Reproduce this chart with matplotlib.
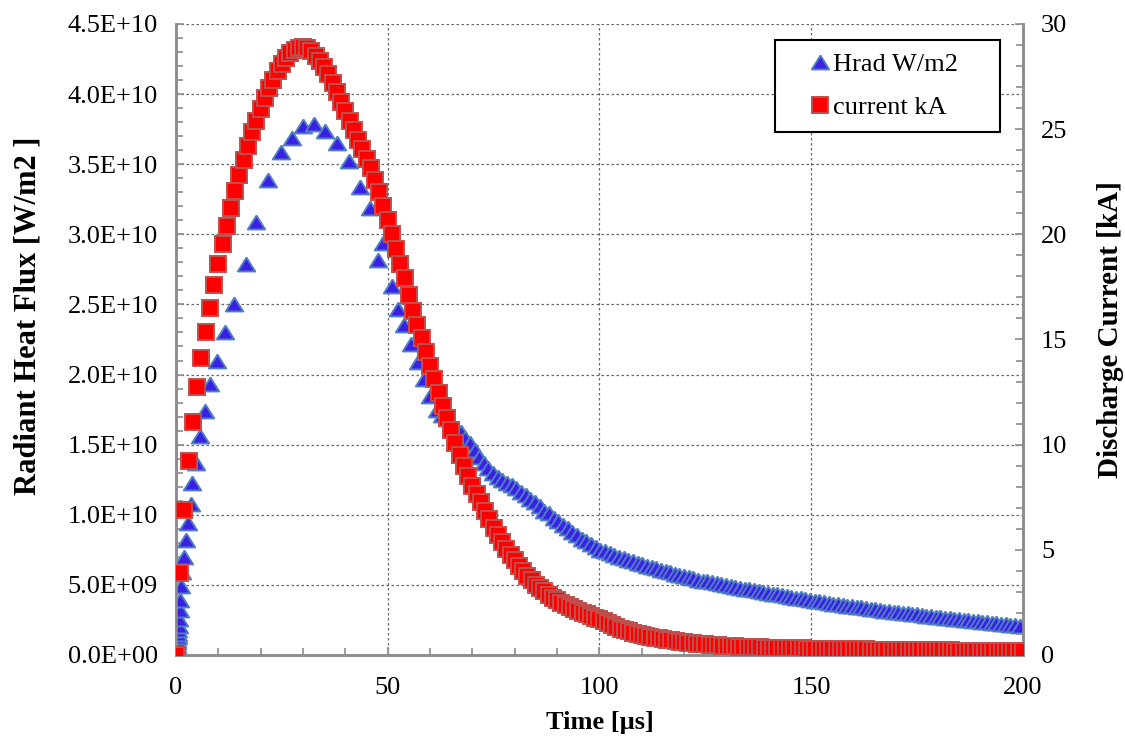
import matplotlib
matplotlib.use("Agg")
import matplotlib.pyplot as plt
import numpy as np
from matplotlib.ticker import MultipleLocator, FuncFormatter

# Hrad (radiant heat flux), time in us, flux in units of 1E10 W/m2
hrad_time = [
    0.00, 0.05, 0.10, 0.15, 0.20, 0.25, 0.30, 0.38, 0.46, 0.55, 0.65, 0.76,
    0.90, 1.05, 1.25, 1.50, 1.90, 2.40, 2.90, 3.45, 3.90, 4.70, 5.60, 6.80,
    8.00, 9.60, 11.6, 13.7, 16.5, 19.0, 21.8, 24.7, 27.5, 30.1, 32.7, 35.3,
    38.1, 40.8, 43.4, 45.9, 47.7, 48.8, 50.9, 52.5, 53.8, 55.4, 57.2, 58.5,
    60.1, 61.7, 62.8, 63.9, 65.0, 66.1, 67.2, 68.3, 69.4, 70.5, 71.6, 72.7,
    73.8, 74.9, 76.0, 77.1, 78.2, 79.3, 80.4, 81.5, 82.6, 83.7, 84.8, 85.9,
    87.0, 88.1, 89.2, 90.3, 91.4, 92.5, 93.6, 94.7, 95.8, 96.9, 98.0, 99.1,
    100.2, 101.3, 102.4, 103.5, 104.6, 105.7, 106.8, 107.9, 109.0, 110.1,
    111.2, 112.3, 113.4, 114.5, 115.6, 116.7, 117.8, 118.9, 120.0, 121.1,
    122.2, 123.3, 124.4, 125.5, 126.6, 127.7, 128.8, 129.9, 131.0, 132.1,
    133.2, 134.3, 135.4, 136.5, 137.6, 138.7, 139.8, 140.9, 142.0, 143.1,
    144.2, 145.3, 146.4, 147.5, 148.6, 149.7, 150.8, 151.9, 153.0, 154.1,
    155.2, 156.3, 157.4, 158.5, 159.6, 160.7, 161.8, 162.9, 164.0, 165.1,
    166.2, 167.3, 168.4, 169.5, 170.6, 171.7, 172.8, 173.9, 175.0, 176.1,
    177.2, 178.3, 179.4, 180.5, 181.6, 182.7, 183.8, 184.9, 186.0, 187.1,
    188.2, 189.3, 190.4, 191.5, 192.6, 193.7, 194.8, 195.9, 197.0, 198.1,
    199.2,
]
hrad_e10 = [
    0.000, 0.020, 0.040, 0.055, 0.070, 0.090, 0.107, 0.126, 0.150, 0.180, 0.210, 0.260,
    0.320, 0.390, 0.490, 0.590, 0.700, 0.820, 0.940, 1.080, 1.230, 1.370, 1.560, 1.740,
    1.930, 2.100, 2.300, 2.500, 2.790, 3.090, 3.390, 3.590, 3.690, 3.770, 3.790, 3.740,
    3.650, 3.520, 3.340, 3.190, 2.820, 2.940, 2.630, 2.470, 2.350, 2.220, 2.090, 1.970,
    1.850, 1.750, 1.710, 1.680, 1.650, 1.620, 1.590, 1.550, 1.510, 1.460, 1.410, 1.370,
    1.330, 1.300, 1.270, 1.250, 1.230, 1.210, 1.190, 1.160, 1.140, 1.110, 1.090, 1.060,
    1.030, 1.010, 0.980, 0.955, 0.930, 0.905, 0.880, 0.855, 0.830, 0.810, 0.790, 0.770,
    0.750, 0.738, 0.726, 0.714, 0.702, 0.691, 0.680, 0.669, 0.658, 0.647,
    0.637, 0.627, 0.617, 0.607, 0.598, 0.589, 0.580, 0.571, 0.562, 0.554,
    0.546, 0.538, 0.530, 0.524, 0.518, 0.511, 0.505, 0.499, 0.492, 0.486,
    0.480, 0.474, 0.468, 0.462, 0.456, 0.450, 0.444, 0.438, 0.432, 0.426,
    0.421, 0.415, 0.409, 0.403, 0.398, 0.392, 0.387, 0.382, 0.377, 0.372,
    0.367, 0.362, 0.357, 0.352, 0.348, 0.343, 0.339, 0.334, 0.330, 0.326,
    0.321, 0.317, 0.313, 0.309, 0.305, 0.301, 0.297, 0.293, 0.289, 0.285,
    0.281, 0.277, 0.274, 0.270, 0.266, 0.262, 0.259, 0.255, 0.251, 0.248,
    0.244, 0.241, 0.237, 0.234, 0.230, 0.227, 0.224, 0.220, 0.217, 0.214,
    0.210,
]

# discharge current, time in us, current in kA
current_time = [
    0, 1, 2, 3, 4, 5, 6, 7, 8, 9, 10, 11, 12, 13, 14, 15, 16, 17, 18, 19,
    20, 21, 22, 23, 24, 25, 26, 27, 28, 29, 30, 31, 32, 33, 34, 35, 36, 37, 38, 39,
    40, 41, 42, 43, 44, 45, 46, 47, 48, 49, 50, 51, 52, 53, 54, 55, 56, 57, 58, 59,
    60, 61, 62, 63, 64, 65, 66, 67, 68, 69, 70, 71, 72, 73, 74, 75, 76, 77, 78, 79,
    80, 81, 82, 83, 84, 85, 86, 87, 88, 89, 90, 91, 92, 93, 94, 95, 96, 97, 98, 99,
    100, 101, 102, 103, 104, 105, 106, 107, 108, 109, 110, 111, 112, 113, 114, 115,
    116, 117, 118, 119, 120, 121, 122, 123, 124, 125, 126, 127, 128, 129, 130, 131,
    132, 133, 134, 135, 136, 137, 138, 139, 140, 141, 142, 143, 144, 145, 146, 147,
    148, 149, 150, 151, 152, 153, 154, 155, 156, 157, 158, 159, 160, 161, 162, 163,
    164, 165, 166, 167, 168, 169, 170, 171, 172, 173, 174, 175, 176, 177, 178, 179,
    180, 181, 182, 183, 184, 185, 186, 187, 188, 189, 190, 191, 192, 193, 194, 195,
    196, 197, 198, 199, 200,
]
current_ka = [
    0.0, 3.9, 6.9, 9.2, 11.1, 12.75, 14.1, 15.35, 16.5, 17.6,
    18.6, 19.55, 20.4, 21.25, 22.05, 22.8, 23.55, 24.2, 24.85, 25.4,
    25.95, 26.5, 26.95, 27.35, 27.75, 28.1, 28.4, 28.6, 28.75, 28.85,
    28.9, 28.85, 28.7, 28.5, 28.25, 27.95, 27.6, 27.2, 26.75, 26.3,
    25.85, 25.4, 24.95, 24.5, 24.05, 23.6, 23.15, 22.6, 22.0, 21.35,
    20.7, 20.0, 19.3, 18.6, 17.9, 17.1, 16.35, 15.7, 15.05, 14.4,
    13.75, 13.1, 12.45, 11.85, 11.25, 10.7, 10.1, 9.5, 9.0, 8.5,
    8.05, 7.65, 7.25, 6.85, 6.45, 6.05, 5.7, 5.35, 5.05, 4.75,
    4.5, 4.25, 4.0, 3.75, 3.55, 3.35, 3.18, 3.02, 2.87, 2.73,
    2.6, 2.49, 2.38, 2.28, 2.19, 2.1, 2.01, 1.93, 1.85, 1.77,
    1.7, 1.6, 1.51, 1.42, 1.33, 1.25, 1.18, 1.12, 1.06, 1.0,
    0.95, 0.91, 0.87, 0.83, 0.79, 0.75, 0.72, 0.69, 0.66, 0.63,
    0.6, 0.58, 0.56, 0.54, 0.52, 0.5, 0.49, 0.47, 0.46, 0.44,
    0.43, 0.42, 0.41, 0.4, 0.39, 0.38, 0.375, 0.37, 0.36, 0.355,
    0.35, 0.345, 0.34, 0.335, 0.33, 0.325, 0.32, 0.315, 0.31, 0.305,
    0.3, 0.297, 0.294, 0.291, 0.288, 0.285, 0.282, 0.279, 0.276, 0.273,
    0.27, 0.267, 0.264, 0.261, 0.258, 0.255, 0.252, 0.249, 0.246, 0.243,
    0.24, 0.238, 0.236, 0.234, 0.232, 0.23, 0.228, 0.226, 0.224, 0.222,
    0.22, 0.218, 0.216, 0.214, 0.212, 0.21, 0.208, 0.206, 0.204, 0.202,
    0.2, 0.199, 0.198, 0.197, 0.196, 0.195, 0.194, 0.193, 0.192, 0.191,
    0.19,
]

plt.rcParams["font.family"] = ["Liberation Serif", "DejaVu Serif"]
plt.rcParams["font.size"] = 19

fig = plt.figure(figsize=(11.25, 7.38), dpi=100)
ax = fig.add_axes([0.1564, 0.1125, 0.7529, 0.855])
ax2 = ax.twinx()

# flattened triangle, a bit wider than tall like the Excel marker
tri = [(0, 0.8), (-1, -0.8), (1, -0.8), (0, 0.8)]

h_flux = np.array(hrad_e10) * 1e10
ax.plot(hrad_time, h_flux, linestyle="none", marker=tri, markersize=12.5,
        markerfacecolor="#3A1FE6", markeredgecolor="#4F7FC0", markeredgewidth=1.4,
        label="Hrad W/m2", zorder=3)
ax2.plot(current_time, current_ka, linestyle="none", marker="s", markersize=11.5,
         markerfacecolor="#FF0000", markeredgecolor="#C0504D", markeredgewidth=1.4,
         label="current kA", zorder=3)

ax.set_xlim(0, 200)
ax.set_ylim(0, 4.5e10)
ax2.set_ylim(0, 30)

ax.xaxis.set_major_locator(MultipleLocator(50))
ax.xaxis.set_minor_locator(MultipleLocator(10))
ax.yaxis.set_major_locator(MultipleLocator(5e9))
ax.yaxis.set_minor_locator(MultipleLocator(1e9))
ax.yaxis.set_major_formatter(FuncFormatter(lambda v, p: "%.1E" % v))
ax2.yaxis.set_major_locator(MultipleLocator(5))
ax2.yaxis.set_minor_locator(MultipleLocator(1))

ax.grid(True, which="major", color="#666666", linestyle=(0, (2, 2)), linewidth=0.9)
ax.set_axisbelow(True)

spine_col = "#8C8C8C"
for a in (ax, ax2):
    for side in ("left", "right", "bottom"):
        a.spines[side].set_color(spine_col)
        a.spines[side].set_linewidth(1.8)
    a.spines["top"].set_visible(False)
    a.tick_params(which="both", direction="in", color=spine_col, width=1.2)
    a.tick_params(which="major", length=6)
    a.tick_params(which="minor", length=5)

ax.tick_params(axis="y", pad=13)
ax.tick_params(axis="x", pad=16)
ax2.tick_params(axis="y", pad=13)

ax.set_xlabel("Time [\u00b5s]", fontweight="bold")
ax.xaxis.set_label_coords(0.5, -0.089)
ax.set_ylabel("Radiant Heat Flux [W/m2 ]", fontweight="bold", fontsize=22)
ax.yaxis.set_label_coords(-0.157, 0.537)
ax2.set_ylabel("Discharge Current [kA]", fontweight="bold", fontsize=21)
ax2.yaxis.set_label_coords(1.087, 0.515)

h1, l1 = ax.get_legend_handles_labels()
h2, l2 = ax2.get_legend_handles_labels()
leg = ax2.legend(h1 + h2, l1 + l2, loc="upper left",
                 bbox_to_anchor=(775 / 1125, (738 - 137) / 738, 225 / 1125, 97 / 738),
                 bbox_transform=fig.transFigure, mode="expand",
                 frameon=True, fancybox=False, framealpha=1, edgecolor="black",
                 handlelength=2.48, handletextpad=-0.75, labelspacing=0.75,
                 borderpad=0.47, borderaxespad=0)
leg.get_frame().set_linewidth(1.5)

fig.savefig("out.png", dpi=100)
